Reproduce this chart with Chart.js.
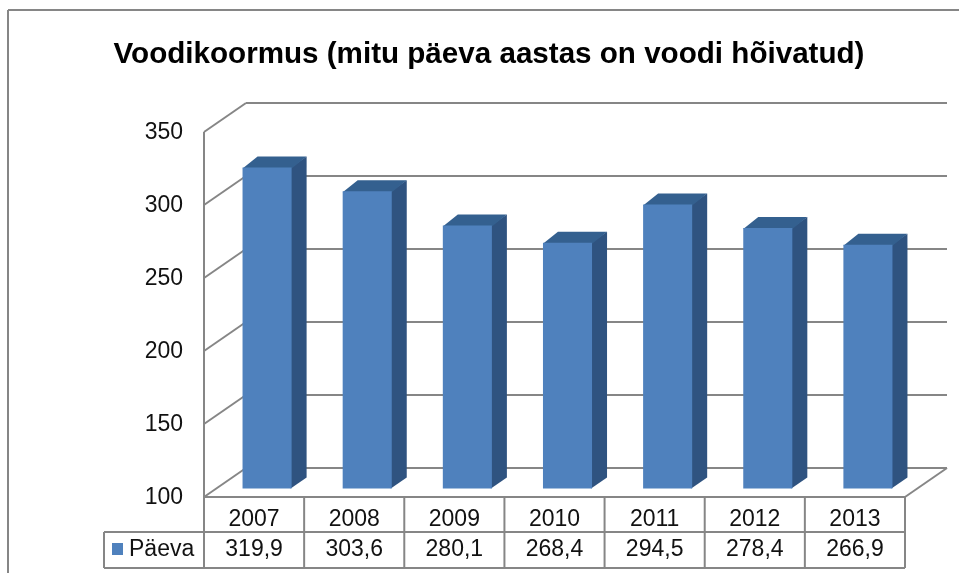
<!DOCTYPE html>
<html>
<head>
<meta charset="utf-8">
<title>Voodikoormus</title>
<script src="https://cdn.jsdelivr.net/npm/chart.js@4"></script>
<style>
  body { margin: 0; background: #fff; }
  /* the source picture is a soft scan, not crisp */
  canvas { display: block; filter: blur(0.5px); }
</style>
</head>
<body>
<canvas id="chart" width="959" height="573"></canvas>
<script>
const years = ['2007', '2008', '2009', '2010', '2011', '2012', '2013'];
const paeva = [319.9, 303.6, 280.1, 268.4, 294.5, 278.4, 266.9];
const valueLabels = ['319,9', '303,6', '280,1', '268,4', '294,5', '278,4', '266,9'];
const seriesName = 'Päeva';
const chartTitle = 'Voodikoormus (mitu päeva aastas on voodi hõivatud)';

const FONT = '"Liberation Sans", Arial, sans-serif';
const LINE = '#868686';

// wall depth and bar depth of the fake 3d look
const wall = { dx: 42, dy: -29 };
const barShift = { dx: 13, dy: -8.5 };
const barDepth = { dx: 15, dy: -11 };

function poly(ctx, pts, fill) {
  ctx.beginPath();
  pts.forEach((p, i) => i ? ctx.lineTo(p[0], p[1]) : ctx.moveTo(p[0], p[1]));
  ctx.closePath();
  ctx.fillStyle = fill;
  ctx.fill();
}

function line(ctx, x1, y1, x2, y2) {
  ctx.beginPath();
  ctx.moveTo(x1, y1);
  ctx.lineTo(x2, y2);
  ctx.stroke();
}

const walls3d = {
  id: 'walls3d',
  beforeDatasetsDraw(chart) {
    const { ctx, chartArea: a, scales } = chart;
    ctx.save();
    ctx.strokeStyle = LINE;
    ctx.lineWidth = 2;

    // outer frame of the picture
    line(ctx, 8, 10, 959, 10);
    line(ctx, 8, 10, 8, 573);

    // left wall, back wall grid and floor
    line(ctx, a.left, a.top, a.left, a.bottom);
    scales.y.ticks.forEach(t => {
      const y = scales.y.getPixelForValue(t.value);
      line(ctx, a.left, y, a.left + wall.dx, y + wall.dy);
      line(ctx, a.left + wall.dx, y + wall.dy, a.right + wall.dx, y + wall.dy);
    });
    line(ctx, a.right, a.bottom, a.right + wall.dx, a.bottom + wall.dy);

    // bar tops and sides
    chart.getDatasetMeta(0).data.forEach(bar => {
      const l = bar.x - bar.width / 2 + barShift.dx;
      const r = bar.x + bar.width / 2 + barShift.dx;
      const t = bar.y + barShift.dy;
      const b = bar.base + barShift.dy;
      poly(ctx, [[r - 1, t], [r + barDepth.dx, t + barDepth.dy], [r + barDepth.dx, b + barDepth.dy], [r - 1, b]], '#2f5380');
      poly(ctx, [[l, t + 1], [l + barDepth.dx, t + barDepth.dy], [r + barDepth.dx, t + barDepth.dy], [r, t + 1]], '#34608f');
    });
    ctx.restore();

    // front faces are drawn by chart.js, moved back into the room
    ctx.save();
    ctx.translate(barShift.dx, barShift.dy);
  },
  afterDatasetsDraw(chart) {
    chart.ctx.restore();
  }
};

const dataTable = {
  id: 'dataTable',
  afterDraw(chart) {
    const { ctx, chartArea: a, scales } = chart;
    const rowTop = a.bottom + 35;
    const rowBottom = a.bottom + 71;
    const tableLeft = 104;
    ctx.save();
    ctx.strokeStyle = LINE;
    ctx.lineWidth = 2;
    line(ctx, a.left, a.bottom, a.right, a.bottom);
    line(ctx, tableLeft, rowTop, a.right, rowTop);
    line(ctx, tableLeft, rowBottom, a.right, rowBottom);
    line(ctx, tableLeft, rowTop, tableLeft, rowBottom);
    line(ctx, a.left, a.bottom, a.left, rowBottom);
    years.forEach((_, i) => {
      const x = scales.x.getPixelForValue(i) + scales.x.width / years.length / 2;
      line(ctx, x, a.bottom, x, rowBottom);
    });

    // legend key + series name
    ctx.fillStyle = '#4f81bd';
    ctx.fillRect(112, rowTop + 11, 11, 12);
    ctx.fillStyle = '#111';
    ctx.font = '23px ' + FONT;
    ctx.textBaseline = 'middle';
    ctx.textAlign = 'left';
    ctx.fillText(seriesName, 129, rowTop + 18);

    ctx.textAlign = 'center';
    valueLabels.forEach((label, i) => {
      ctx.fillText(label, scales.x.getPixelForValue(i), rowTop + 18);
    });
    ctx.restore();
  }
};

new Chart(document.getElementById('chart'), {
  type: 'bar',
  data: {
    labels: years,
    datasets: [{
      label: seriesName,
      data: paeva,
      base: 100,
      backgroundColor: '#4f81bd',
      categoryPercentage: 1,
      barPercentage: 0.49,
      clip: false
    }]
  },
  options: {
    responsive: false,
    animation: false,
    layout: { padding: { left: 73, right: 54 } },
    plugins: {
      legend: { display: false },
      tooltip: { enabled: false },
      title: {
        display: true,
        text: chartTitle,
        color: '#000',
        font: { family: FONT, size: 29.6, weight: 'bold', lineHeight: 1.2 },
        padding: { top: 37, bottom: 59.5 }
      }
    },
    scales: {
      x: {
        grid: { display: false, drawTicks: false },
        border: { display: false },
        ticks: { color: '#111', font: { family: FONT, size: 23 }, padding: 9, maxRotation: 0 },
        afterFit(scale) { scale.height = 76; }
      },
      y: {
        min: 100,
        max: 350,
        grid: { display: false, drawTicks: false },
        border: { display: false },
        ticks: { stepSize: 50, color: '#111', font: { family: FONT, size: 23 }, padding: 21, labelOffset: 1 },
        afterFit(scale) { scale.width = 131; }
      }
    }
  },
  plugins: [walls3d, dataTable]
});
</script>
</body>
</html>
